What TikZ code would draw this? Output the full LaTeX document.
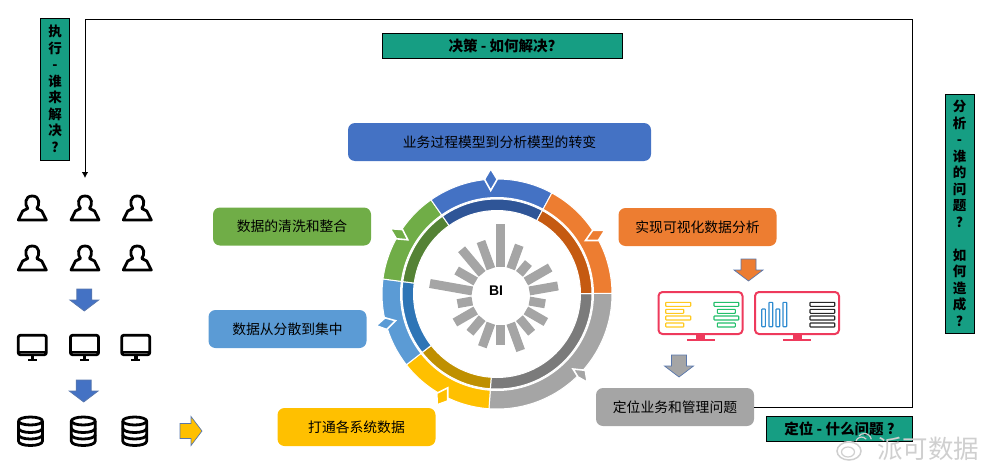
\documentclass[tikz,border=0pt]{standalone}
\usepackage{fontspec}
\setmainfont{Noto Sans CJK SC}
\newfontfamily\latinfont{Liberation Sans}
\usepackage{tikz}
\usetikzlibrary{arrows.meta}
\definecolor{teal1}{HTML}{169E83}
\definecolor{blue1}{HTML}{4472C4}
\definecolor{blue2}{HTML}{2F5597}
\definecolor{orange1}{HTML}{ED7D31}
\definecolor{orange2}{HTML}{C55A11}
\definecolor{grey1}{HTML}{A5A5A5}
\definecolor{grey2}{HTML}{7B7B7B}
\definecolor{yellow1}{HTML}{FFC000}
\definecolor{yellow2}{HTML}{BF9000}
\definecolor{sky1}{HTML}{5B9BD5}
\definecolor{sky2}{HTML}{2E75B6}
\definecolor{green1}{HTML}{70AD47}
\definecolor{green2}{HTML}{548235}
\definecolor{screenred}{HTML}{EE3A5C}
\definecolor{barblue}{HTML}{2E8BD0}
\definecolor{bargreen}{HTML}{22BF6A}
\definecolor{baryellow}{HTML}{FFC91F}
\definecolor{wmgrey}{HTML}{CFCFCF}
\tikzset{
  tagbox/.style={draw=black, line width=0.9, fill=teal1, font=\fontsize{13.5}{16.5}\selectfont\bfseries, align=center, inner sep=0pt},
  widetag/.style={tagbox, font=\fontsize{14.5}{16.5}\selectfont\bfseries},
  pill/.style={rounded corners=7, font=\fontsize{13.8}{16}\selectfont, minimum width=158, minimum height=38, inner sep=0pt},
  iconline/.style={line width=2.8, line join=round, black},
  person/.pic={\draw[iconline] (-14,12) -- (14,12) -- (9.5,3) -- (4.5,0.5)
      .. controls (7.5,-3) and (8,-12) .. (0,-12) .. controls (-8,-12) and (-7.5,-3) .. (-4.5,0.5) -- (-9.5,3) -- cycle;},
  pcicon/.pic={\draw[iconline, rounded corners=2] (-14,-9.7) rectangle (14,9.7);
      \draw[line width=2] (-14,6.5) -- (14,6.5);
      \fill (-1.8,10) rectangle (1.8,14); \fill (-4.5,13.5) rectangle (4.5,16);},
  dbicon/.pic={\draw[iconline] (0,-10) ellipse (12 and 4);
      \draw[iconline] (-12,-10) -- (-12,10) .. controls (-12,16) and (12,16) .. (12,10) -- (12,-10);
      \draw[iconline] (-12,-3) .. controls (-12,3) and (12,3) .. (12,-3);
      \draw[iconline] (-12,3.5) .. controls (-12,9.5) and (12,9.5) .. (12,3.5);},
  blockarrow/.pic={\draw[draw=blue2!80, line width=0.7, fill=#1] (-7.5,-11) -- (7.5,-11) -- (7.5,0) -- (14.5,0) -- (0,11) -- (-14.5,0) -- (-7.5,0) -- cycle;},
  dashscreen/.pic={\draw[screenred, line width=2, rounded corners=4] (-42,-21) rectangle (42,21);
      \fill[screenred] (-4.5,21) rectangle (4.5,25.5); \fill[screenred] (-14,25.5) rectangle (14,28);},
  slim/.style={line width=1.1, rounded corners=0.6},
  ringmark/.style={draw=white, line width=1.6, line join=miter}
}
\newcommand{\ringpart}[4]{% from, to, outer colour, inner colour
  \fill[#3, draw=white, line width=1] (#1:115) arc (#1:#2:115) -- (#2:96.5) arc (#2:#1:96.5) -- cycle;
  \fill[#4, draw=white, line width=1] (#1:95) arc (#1:#2:95) -- (#2:83.5) arc (#2:#1:83.5) -- cycle;
}
\begin{document}
\begin{tikzpicture}[x=1pt, y=-1pt]
  \useasboundingbox (0,0) rectangle (989,471);

  % the ring
  \begin{scope}[shift={(497,294)}, y=1pt]
    \ringpart{0.3}{-94}{grey1}{grey2}
    \ringpart{266}{218}{yellow1}{yellow2}
    \ringpart{218}{172.5}{sky1}{sky2}
    \ringpart{172.5}{125}{green1}{green2}
    \ringpart{125}{61.5}{blue1}{blue2}
    \ringpart{61.5}{0.3}{orange1}{orange2}
  \end{scope}
  \draw[ringmark, fill=orange1] (585.5,240.5) -- (592.7,230.3) -- (604.8,230.3) -- (598.3,240.5) -- cycle;
  \draw[ringmark, fill=grey1] (573,369) -- (585.3,370.3) -- (587.2,382.2) -- (578,377) -- cycle;
  \draw[ringmark, fill=yellow1] (436.8,393.3) -- (447.7,387.8) -- (447.7,401) -- (437.2,404.8) -- cycle;
  \draw[ringmark, fill=sky1] (376.2,325.7) -- (385,317.8) -- (395.5,320.7) -- (386.7,329.5) -- cycle;
  \draw[ringmark, fill=green1] (390.2,228.6) -- (402.6,229.6) -- (407.8,239.8) -- (396.4,238.8) -- cycle;
  \draw[ringmark, fill=blue1] (490.7,168.8) -- (497.2,179.3) -- (490.7,190.5) -- (484.5,179.3) -- cycle;

  % bars round BI
  \begin{scope}[shift={(500.8,296)}, y=1pt]
    \foreach \a/\r in {90/72,70/54,50/43,30/57,10/58,-10/45,-30/52,-50/48,-70/58,-90/49,-110/54,-130/48,-150/53,-170/44,170/72,150/51,130/61,110/58}
      \draw[grey1, line width=9] (\a:29) -- (\a:\r);
  \end{scope}
  \node[font=\fontsize{14}{16}\latinfont\bfseries, inner sep=0pt] (nBI) at (496,291) {BI};

  % labels
  \node[widetag, minimum width=240, minimum height=25] (nDecide) at (502,45.5) {决策\ - 如何解决?};
  \node[tagbox, minimum width=29, minimum height=142] (nDo) at (55,89) {执\\行\\-\\谁\\来\\解\\决\\?};
  \node[tagbox, minimum width=29, minimum height=239] (nWhy) at (959.5,213.5) {分\\析\\-\\谁\\的\\问\\题\\?\\ \\如\\何\\造\\成\\?};
  \node[widetag, minimum width=145.5, minimum height=24.5] (nWhat) at (839.5,428.7) {定位\ - 什么问题 ?};

  \node[pill, fill=blue1, minimum width=303] (nModel) at (499.5,142) {业务过程模型到分析模型的转变};
  \node[pill, fill=green1] (nClean) at (292,226.5) {数据的清洗和整合};
  \node[pill, fill=orange1] (nVisual) at (697.5,227) {实现可视化数据分析};
  \node[pill, fill=sky1] (nCentral) at (287.5,329) {数据从分散到集中};
  \node[pill, fill=yellow1] (nConnect) at (356.5,427) {打通各系统数据};
  \node[pill, fill=grey1] (nLocate) at (675,407) {定位业务和管理问题};

  % the big loop back to the users
  \coordinate (cUsers) at (85,178);
  \draw[line width=0.9, -{Latex[length=6,width=6.5]}] (nLocate.east) -- (912,407) -- (912,19) -- (85,19) -- (cUsers);

  % left column
  \foreach \x in {32.3,85,137.3}
    \foreach \y in {208,258}
      \pic at (\x,\y) {person};
  \foreach \x in {32.3,84.5,135.7}
    \pic at (\x,345) {pcicon};
  \pic at (30.5,431) {dbicon};
  \pic at (83.3,431) {dbicon};
  \pic at (134.7,431) {dbicon};
  \pic at (84.3,300) {blockarrow=blue1};
  \pic at (83.7,391) {blockarrow=blue1};
  \pic[rotate=90] at (191,431) {blockarrow=yellow1};
  \pic at (748.5,270) {blockarrow=orange1};
  \pic at (679,366) {blockarrow=grey1};

  % the two dashboards
  \pic at (700.5,313) {dashscreen};
  \pic at (797,313) {dashscreen};
  \foreach \y in {302.3,316}
    \draw[slim, baryellow] (665.7,\y) rectangle +(25,4);
  \foreach \y in {309.3,323}
    \draw[slim, baryellow] (665.7,\y) rectangle +(18,4);
  \foreach \y in {302.3,316}
    \draw[slim, bargreen] (714,\y) rectangle +(24.7,4);
  \foreach \y in {309.3,323}
    \draw[slim, bargreen] (717.3,\y) rectangle +(18,4);
  \foreach \x/\y in {761.7/309,769/302.3,776/309,783/302.3}
    \draw[slim, barblue] (\x,\y) rectangle (\x+3.7,326.7);
  \foreach \y in {302.3,309.3,316,323}
    \draw[slim, black!85] (810,\y) rectangle +(24.7,4);

  % watermark
  \fill[white] (849,451) ellipse (13 and 10);
  \draw[wmgrey, line width=1.5] (849,451) ellipse (12 and 9);
  \draw[wmgrey, line width=1.2] (848,452) ellipse (6.5 and 5);
  \draw[wmgrey, line width=1.2] (856,441) arc (200:320:6);
  \draw[wmgrey, line width=1.2] (859,436) arc (220:350:7);
  \node[text=wmgrey, font=\fontsize{25.5}{27}\selectfont, inner sep=0pt] (nMark) at (928,449) {派可数据};
\end{tikzpicture}
\end{document}
